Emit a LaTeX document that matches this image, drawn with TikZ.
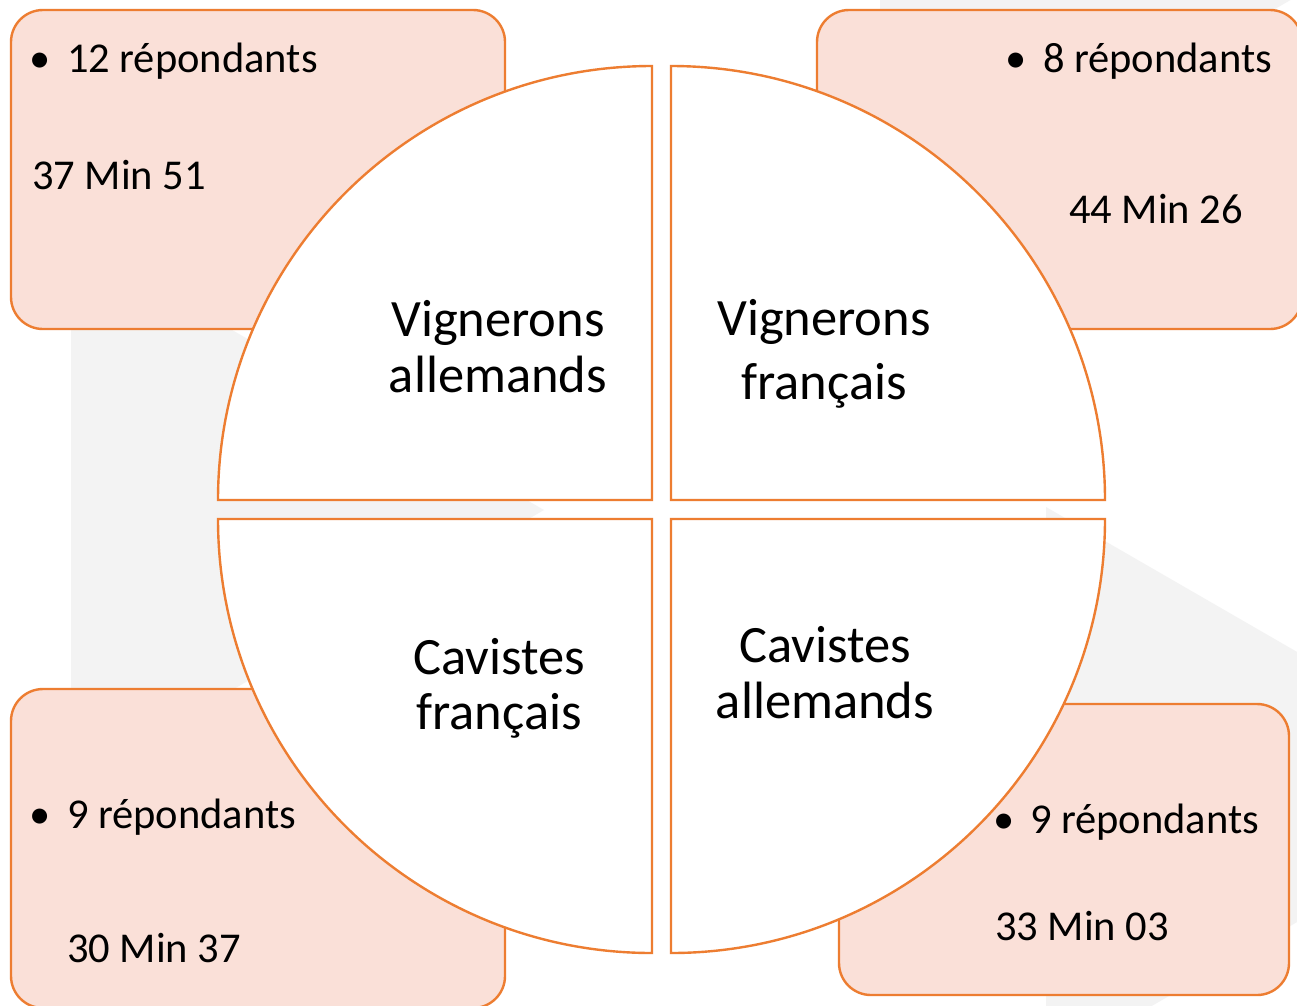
\documentclass[tikz,border=0pt]{standalone}
\usepackage{fontspec}
\setmainfont{Carlito}
\definecolor{orng}{HTML}{ED7D31}
\definecolor{peach}{HTML}{FAE0D8}
\definecolor{bggrey}{HTML}{F3F3F3}
\begin{document}
\begin{tikzpicture}[x=1pt,y=-1pt,
  box/.style={draw=orng, fill=peach, line width=2.4pt, rounded corners=32pt, inner sep=0pt, outer sep=0pt},
  quarter/.style={draw=orng, fill=white, line width=2.4pt},
  small/.style={font=\fontsize{42.5}{50}\selectfont, inner sep=0pt, outer sep=0pt},
  big/.style={font=\fontsize{52.5}{56}\selectfont, align=center, inner sep=0pt, outer sep=0pt}]
\useasboundingbox (0,0) rectangle (1297,1005);
\clip (0,0) rectangle (1297,1005);
\fill[white] (0,0) rectangle (1297,1005);
% background triangles
\fill[bggrey] (71,237) -- (544,510) -- (71,783) -- cycle;
\fill[bggrey] (1046,507) -- (1531,787) -- (1046,1067) -- cycle;
\fill[bggrey] (880,-323) -- (1365,-43) -- (880,237) -- cycle;
% corner boxes
\node[box, minimum width=494pt, minimum height=319pt] (tlbox) at (258,169.5) {};
\node[box, minimum width=485pt, minimum height=319pt] (trbox) at (1059.5,169.5) {};
\node[box, minimum width=494pt, minimum height=319pt] (blbox) at (258,848.5) {};
\node[box, minimum width=450pt, minimum height=291pt] (brbox) at (1064,849.5) {};
% quarters
\draw[quarter] (652,500) -- (218,500) arc[start angle=180,end angle=270,radius=434] -- cycle;
\draw[quarter] (671,500) -- (671,66) arc[start angle=270,end angle=360,radius=434] -- cycle;
\draw[quarter] (671,519) -- (1105,519) arc[start angle=0,end angle=90,radius=434] -- cycle;
\draw[quarter] (652,519) -- (652,953) arc[start angle=90,end angle=180,radius=434] -- cycle;
% quarter labels (base anchor = baseline of last line)
\node[big, anchor=base] (vall) at (498,392) {Vignerons\\allemands};
\node[big, anchor=base] (vfr) at (824,399) {Vignerons\\[8pt]français};
\node[big, anchor=base] (cfr) at (499,729) {Cavistes\\[-1pt]français};
\node[big, anchor=base] (call) at (825,718) {Cavistes\\allemands};
% box texts
\node[small, anchor=base] (tlb) at (40,72) {•};
\node[small, anchor=base west] (tlr) at (67,72) {12 répondants};
\node[small, anchor=base west] (tlt) at (32,189) {37 Min 51};
\node[small, anchor=base] (trb) at (1016,72) {•};
\node[small, anchor=base west] (trr) at (1043,72) {8 répondants};
\node[small, anchor=base west] (trt) at (1069,223) {44 Min 26};
\node[small, anchor=base] (blb) at (40,828) {•};
\node[small, anchor=base west] (blr) at (67,828) {9 répondants};
\node[small, anchor=base west] (blt) at (67,962) {30 Min 37};
\node[small, anchor=base] (brb) at (1004,833) {•};
\node[small, anchor=base west] (brr) at (1030,833) {9 répondants};
\node[small, anchor=base west] (brt) at (995,940) {33 Min 03};
\end{tikzpicture}
\end{document}
